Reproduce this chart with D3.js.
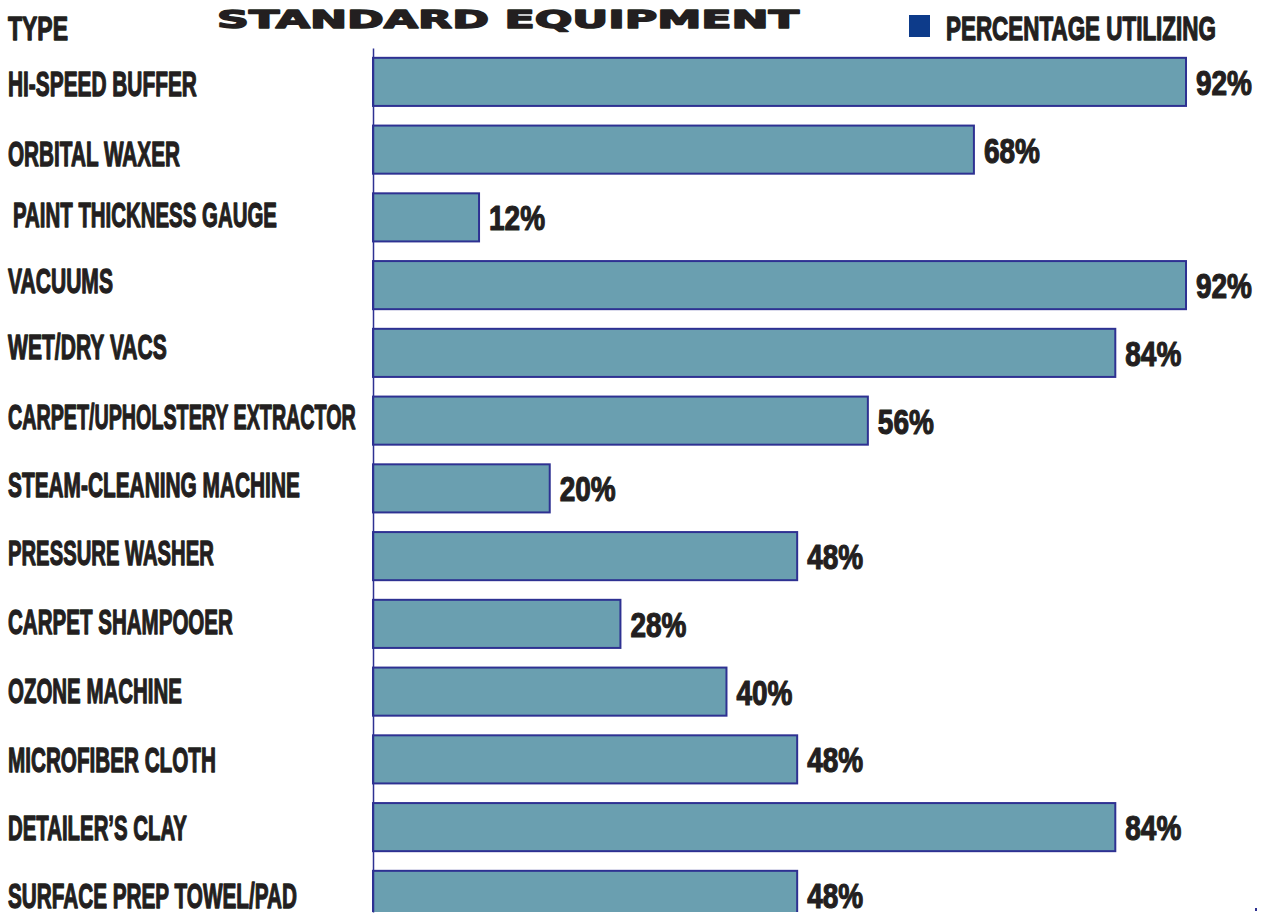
<!DOCTYPE html>
<html>
<head>
<meta charset="utf-8">
<script src="https://cdn.jsdelivr.net/npm/d3@7"></script>
<style>
  html, body { margin: 0; padding: 0; background: #ffffff; }
  svg { display: block; }
</style>
</head>
<body>
<div id="chart"></div>
<script>
// ---- data ----
const categories = [
  "HI-SPEED BUFFER",
  "ORBITAL WAXER",
  "PAINT THICKNESS GAUGE",
  "VACUUMS",
  "WET/DRY VACS",
  "CARPET/UPHOLSTERY EXTRACTOR",
  "STEAM-CLEANING MACHINE",
  "PRESSURE WASHER",
  "CARPET SHAMPOOER",
  "OZONE MACHINE",
  "MICROFIBER CLOTH",
  "DETAILER\u2019S CLAY",
  "SURFACE PREP TOWEL/PAD"
];
const values = [92, 68, 12, 92, 84, 56, 20, 48, 28, 40, 48, 84, 48];
const valueLabels = ["92%", "68%", "12%", "92%", "84%", "56%", "20%", "48%", "28%", "40%", "48%", "84%", "48%"];
const headerType = "TYPE";
const titleText = "STANDARD EQUIPMENT";
const legendText = "PERCENTAGE UTILIZING";

// ---- layout ----
const W = 1264, H = 918;
const labelWidths = [189, 172, 264, 105, 159, 348, 292, 206, 225, 174, 208, 179, 289];
const labelX = [8, 8, 13, 8, 8, 8, 8, 8, 8, 8, 8, 8, 8];
const labelOffsets = [14, 16, 10, 8, 6, 8, 9, 9, 10, 11, 13, 13, 13];

const svg = d3.select("#chart").append("svg").attr("width", W).attr("height", H);

const x = d3.scaleLinear().domain([0, 92]).range([373, 1186]);
const y = d3.scaleBand().domain(d3.range(categories.length))
  .range([48, 48 + 67.75 * categories.length]).paddingInner(0.29).paddingOuter(0.145);

const textColor = "#231f20";
const barFill = "#6a9fb0";
const barStroke = "#2e3192";
const condFont = "'Liberation Sans Narrow', 'Liberation Sans', Arial, sans-serif";

// squeeze a text horizontally to a target width (keeps real bbox)
function fit(sel, px, py, w) {
  sel.each(function (d, i) {
    const node = this;
    const nat = node.getComputedTextLength();
    const tw = typeof w === "function" ? w(d, i) : w;
    const tx = typeof px === "function" ? px(d, i) : px;
    const ty = typeof py === "function" ? py(d, i) : py;
    const s = nat > 0 ? tw / nat : 1;
    d3.select(node).attr("x", 0).attr("y", 0)
      .attr("transform", `translate(${tx},${ty}) scale(${s},1)`);
  });
}

svg.append("defs").append("clipPath").attr("id", "clipArea")
  .append("rect").attr("x", 0).attr("y", 0).attr("width", W).attr("height", 912);

const g = svg.append("g").attr("clip-path", "url(#clipArea)");

// bars
g.selectAll("rect.bar").data(values).join("rect")
  .attr("class", "bar")
  .attr("x", x(0))
  .attr("y", (d, i) => y(i))
  .attr("width", d => x(d) - x(0))
  .attr("height", y.bandwidth())
  .attr("fill", barFill)
  .attr("stroke", barStroke)
  .attr("stroke-width", 2);

// axis line (vertical)
const yAxis = d3.axisLeft(d3.scaleLinear().range([48, 912])).ticks(0).tickSize(0).tickFormat("");
const ax = svg.append("g").attr("transform", `translate(${x(0)},0)`).call(yAxis);
ax.select(".domain").attr("stroke", barStroke).attr("stroke-width", 1.5);

function heavy(sel, size, sw) {
  return sel.attr("font-family", condFont)
    .attr("font-weight", "bold")
    .attr("font-size", size)
    .attr("fill", textColor)
    .attr("stroke", textColor)
    .attr("stroke-width", sw)
    .attr("stroke-linejoin", "round");
}

// value labels
const vals = svg.selectAll("text.val").data(values).join("text")
  .attr("class", "val")
  .text((d, i) => valueLabels[i]);
heavy(vals, 35, 1.2);
fit(vals, d => x(d) + 10, (d, i) => y(i) + y.bandwidth() / 2 + 13, 56);

// category labels
const cats = svg.selectAll("text.cat").data(categories).join("text")
  .attr("class", "cat")
  .text(d => d);
heavy(cats, 35, 1.3);
fit(cats, (d, i) => labelX[i], (d, i) => y(i) + y.bandwidth() / 2 + labelOffsets[i], (d, i) => labelWidths[i]);

// header
const typeT = heavy(svg.append("text").text(headerType), 33, 1.3);
fit(typeT, 8, 40, 60);

const titleT = svg.append("text").text(titleText)
  .attr("font-family", "'DejaVu Sans', Arial, sans-serif").attr("font-weight", "bold")
  .attr("font-size", 24).attr("fill", textColor)
  .attr("stroke", textColor).attr("stroke-width", 1.4).attr("stroke-linejoin", "round");
fit(titleT, 217, 28, 582);

// legend
svg.append("rect")
  .attr("x", 909).attr("y", 15).attr("width", 21).attr("height", 22)
  .attr("fill", "#0d3b8a");
const legT = heavy(svg.append("text").text(legendText), 33, 1.3);
fit(legT, 946, 40, 270);

// small mark bottom right
svg.append("rect").attr("x", 1255).attr("y", 908).attr("width", 2).attr("height", 3).attr("fill", barStroke);
</script>
</body>
</html>
